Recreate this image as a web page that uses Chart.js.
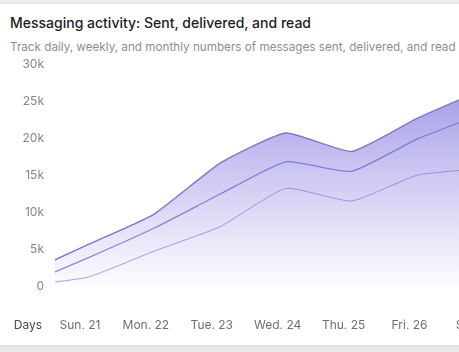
<!DOCTYPE html>
<html>
<head>
    <title>Messaging activity</title>
    <script src="https://cdn.jsdelivr.net/npm/chart.js"></script>
    <style>
        body { margin: 0; background: #ececee; font-family: Inter, "Noto Sans", sans-serif; overflow: hidden; }
        .card { position: absolute; top: 4px; left: -12px; width: 620px; height: 341px; background: #fff; border-radius: 12px; box-shadow: 0 1px 4px rgba(0,0,0,0.08); }
        .title { position: absolute; left: 10px; top: 13px; font-size: 14px; font-weight: 500; color: #1d1d1f; line-height: 20px; white-space: nowrap; }
        .subtitle { position: absolute; left: 10px; top: 39px; font-size: 11.7px; color: #8e8e93; line-height: 16px; white-space: nowrap; }
        .wrap { position: absolute; left: 0; top: 46px; }
    </style>
</head>
<body>
    <div class="card"></div>
    <div class="title">Messaging activity: Sent, delivered, and read</div>
    <div class="subtitle">Track daily, weekly, and monthly numbers of messages sent, delivered, and read</div>
    <div class="wrap"><canvas id="myChart" width="536" height="319"></canvas></div>

    <script>
        // values in thousands; first day sits just left of the visible range
        const days = ['Sat. 20', 'Sun. 21', 'Mon. 22', 'Tue. 23', 'Wed. 24', 'Thu. 25', 'Fri. 26', 'Sat. 27'];
        const sent = [1.5, 5.6, 9.7, 16.6, 20.7, 18.2, 22.7, 26.6];
        const delivered = [0, 3.8, 7.8, 12.4, 16.8, 15.5, 19.9, 23.3];
        const read = [0, 1.2, 4.7, 8.0, 13.2, 11.5, 15.0, 15.9];
        const yTicks = [0, 5, 10, 15, 20, 25, 30];

        const toPoints = arr => arr.map((v, i) => ({ x: i, y: v }));

        const fillGradient = (context) => {
            const area = context.chart.chartArea;
            if (!area) return 'rgba(120,110,220,0.3)';
            const g = context.chart.ctx.createLinearGradient(0, area.top, 0, area.bottom);
            g.addColorStop(0, 'rgba(118,106,218,0.75)');
            g.addColorStop(0.5, 'rgba(118,106,218,0.36)');
            g.addColorStop(1, 'rgba(118,106,218,0.02)');
            return g;
        };

        const daysTitle = {
            id: 'daysTitle',
            afterDraw(chart) {
                const ctx = chart.ctx;
                ctx.save();
                ctx.font = '12px Inter, "Noto Sans", sans-serif';
                ctx.fillStyle = '#4a4a4e';
                ctx.textAlign = 'center';
                ctx.textBaseline = 'middle';
                ctx.fillText('Days', 28, chart.chartArea.bottom + 39);
                ctx.restore();
            }
        };

        const ctx = document.getElementById('myChart').getContext('2d');
        const chart = new Chart(ctx, {
            type: 'line',
            data: {
                datasets: [{
                    label: 'Sent',
                    data: toPoints(sent),
                    borderColor: '#7f76d5',
                    borderWidth: 1.5,
                    backgroundColor: fillGradient,
                    fill: 'origin'
                }, {
                    label: 'Delivered',
                    data: toPoints(delivered),
                    borderColor: '#8d86da',
                    borderWidth: 1.2,
                    fill: false
                }, {
                    label: 'Read',
                    data: toPoints(read),
                    borderColor: '#a8a2e3',
                    borderWidth: 1,
                    fill: false
                }]
            },
            options: {
                responsive: false,
                animation: false,
                layout: { padding: { top: 6, right: 13, bottom: 0.6, left: 0 } },
                elements: { point: { radius: 0 }, line: { tension: 0.15 } },
                plugins: { legend: { display: false }, tooltip: { enabled: false } },
                scales: {
                    x: {
                        type: 'linear',
                        min: 0.5,
                        max: 7.5,
                        grid: { display: false, drawTicks: false },
                        border: { display: false },
                        afterBuildTicks: s => { s.ticks = days.slice(1).map((d, i) => ({ value: i + 1 })); },
                        ticks: {
                            padding: 32,
                            labelOffset: -8,
                            color: '#6e6e73',
                            font: { size: 12, family: 'Inter' },
                            maxRotation: 0,
                            autoSkip: false,
                            callback: v => days[v]
                        }
                    },
                    y: {
                        min: 0,
                        max: 30,
                        grid: { display: false, drawTicks: false },
                        border: { display: false },
                        afterFit: s => { s.width = 55; },
                        afterBuildTicks: s => { s.ticks = yTicks.map(v => ({ value: v })); },
                        ticks: {
                            padding: 11,
                            color: '#85858a',
                            font: { size: 12, family: 'Inter' },
                            callback: v => v === 0 ? '0' : v + 'k'
                        }
                    }
                }
            },
            plugins: [daysTitle]
        });
    </script>
</body>
</html>
